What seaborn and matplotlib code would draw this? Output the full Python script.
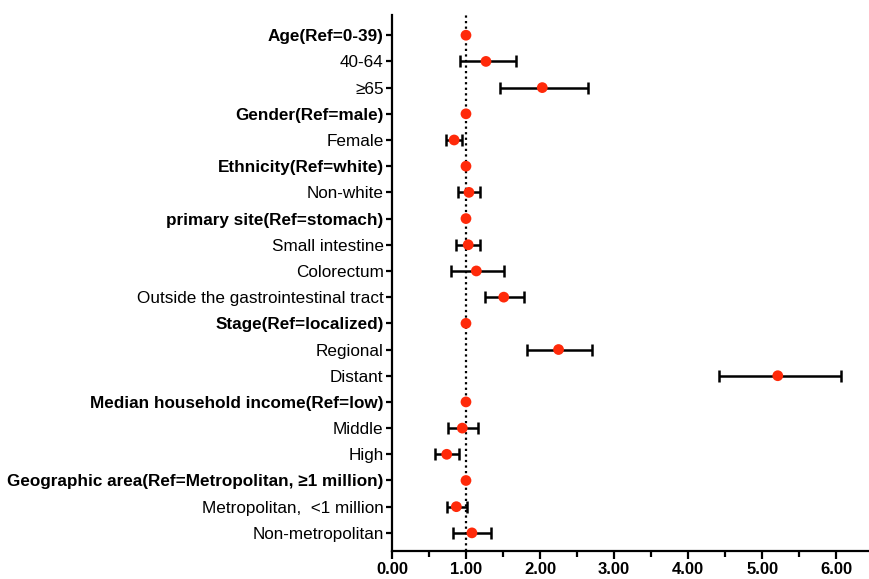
import numpy as np
import pandas as pd
import matplotlib
matplotlib.use('Agg')
import matplotlib.pyplot as plt
from matplotlib.ticker import MultipleLocator
import seaborn as sns

# Forest plot data (hazard ratios with 95% CI); reference rows have no CI
labels = [
    'Age(Ref=0-39)', '40-64', '\u226565',
    'Gender(Ref=male)', 'Female',
    'Ethnicity(Ref=white)', 'Non-white',
    'primary site(Ref=stomach)', 'Small intestine', 'Colorectum',
    'Outside the gastrointestinal tract',
    'Stage(Ref=localized)', 'Regional', 'Distant',
    'Median household income(Ref=low)', 'Middle', 'High',
    'Geographic area(Ref=Metropolitan, \u22651 million)',
    'Metropolitan,  <1 million', 'Non-metropolitan',
]
is_header = [True, False, False, True, False, True, False, True, False, False,
             False, True, False, False, True, False, False, True, False, False]
hr = [1.00, 1.27, 2.03, 1.00, 0.84, 1.00, 1.04, 1.00, 1.03, 1.14,
      1.51, 1.00, 2.25, 5.21, 1.00, 0.95, 0.74, 1.00, 0.87, 1.08]
ci_low = [np.nan, 0.92, 1.46, np.nan, 0.73, np.nan, 0.89, np.nan, 0.87, 0.80,
          1.26, np.nan, 1.82, 4.41, np.nan, 0.76, 0.58, np.nan, 0.75, 0.83]
ci_high = [np.nan, 1.67, 2.65, np.nan, 0.94, np.nan, 1.19, np.nan, 1.19, 1.52,
           1.78, np.nan, 2.70, 6.06, np.nan, 1.16, 0.91, np.nan, 1.01, 1.34]

df = pd.DataFrame({'label': labels, 'hr': hr, 'low': ci_low, 'high': ci_high,
                   'header': is_header})
df['row'] = np.arange(len(df))

sns.set_theme(style='ticks')
plt.rcParams['font.family'] = ['Liberation Sans', 'DejaVu Sans']
plt.rcParams['text.color'] = 'black'
plt.rcParams['xtick.color'] = 'black'
plt.rcParams['ytick.color'] = 'black'
plt.rcParams['axes.edgecolor'] = 'black'

fig = plt.figure(figsize=(8.69, 5.79), dpi=100)
ax = fig.add_axes([0.451, 0.048, 0.548, 0.926])

# reference line at HR = 1
ax.axvline(1.0, color='black', linestyle=(0, (1, 1.5)), linewidth=1.6, zorder=1)

# confidence intervals
ci = df.dropna(subset=['low'])
ax.errorbar(ci['hr'], ci['row'],
            xerr=[ci['hr'] - ci['low'], ci['high'] - ci['hr']],
            fmt='none', ecolor='black', elinewidth=1.8,
            capsize=4.5, capthick=1.8, zorder=2)

# point estimates
sns.scatterplot(data=df, x='hr', y='row', ax=ax, color='#ff2a0a',
                s=60, edgecolor='none', zorder=3, legend=False)

ax.set_xlim(0, 6.43)
ax.set_ylim(19.7, -0.77)
ax.set_yticks(df['row'])
ax.set_yticklabels(df['label'], fontsize=12.3)
for tl, h in zip(ax.get_yticklabels(), df['header']):
    if h:
        tl.set_fontweight('bold')

ax.xaxis.set_minor_locator(MultipleLocator(0.5))
ax.set_xticks(np.arange(0, 7, 1.0))
ax.set_xticklabels([f'{v:.2f}' for v in np.arange(0, 7, 1.0)],
                   fontsize=12, fontweight='bold')

ax.set_xlabel('')
ax.set_ylabel('')
sns.despine(ax=ax)
for side in ['left', 'bottom']:
    ax.spines[side].set_linewidth(1.6)
ax.tick_params(axis='y', length=4, width=1.6, pad=2)
ax.tick_params(axis='x', which='major', length=6, width=1.6, pad=2)
ax.tick_params(axis='x', which='minor', length=4, width=1.6)

plt.savefig('out.png', dpi=100)
plt.close()
